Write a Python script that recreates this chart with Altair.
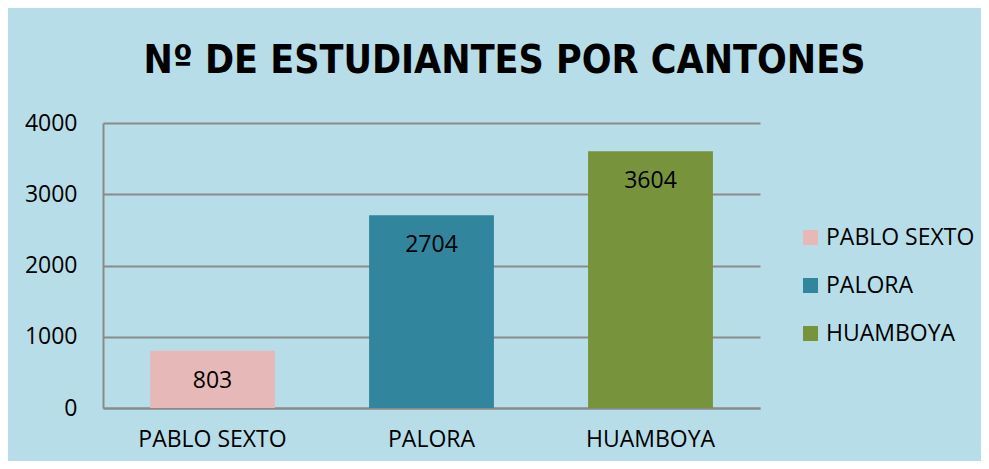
import altair as alt
import pandas as pd

categories = ["PABLO SEXTO", "PALORA", "HUAMBOYA"]
values = [803, 2704, 3604]
colors = ["#E6B9B8", "#31859C", "#77933C"]
y_ticks = [0, 1000, 2000, 3000, 4000]

df = pd.DataFrame({"canton": categories, "n": values})

FONT = "Open Sans"
FS = 23
BG = "#B7DEE8"
GRID = "#8A8A8A"

x_enc = alt.X("canton:N", sort=categories, title=None,
              scale=alt.Scale(paddingInner=0.43, paddingOuter=0.215),
              axis=alt.Axis(labelAngle=0, labelFont=FONT, labelFontSize=FS,
                            labelColor="#000000", labelPadding=20, ticks=False,
                            domainColor=GRID, domainWidth=2))
y_enc = alt.Y("n:Q", title=None,
              scale=alt.Scale(domain=[0, 4000], nice=False),
              axis=alt.Axis(values=y_ticks, format="d", labelFont=FONT,
                            labelFontSize=FS, labelColor="#000000",
                            labelPadding=26, ticks=False,
                            gridColor=GRID, gridWidth=2, domainColor=GRID,
                            domainWidth=2))

bars = alt.Chart(df).mark_bar().encode(
    x=x_enc,
    y=y_enc,
    color=alt.Color("canton:N", sort=categories,
                    scale=alt.Scale(domain=categories, range=colors),
                    legend=alt.Legend(title=None, orient="none", legendX=696,
                                      legendY=103, padding=0, symbolType="square",
                                      symbolSize=225, symbolStrokeWidth=0,
                                      labelFont=FONT, labelFontSize=FS,
                                      labelColor="#000000", rowPadding=24,
                                      labelOffset=4)),
)

labels = alt.Chart(df).mark_text(dy=30, baseline="middle", font=FONT,
                                 fontSize=FS, color="#000000").encode(
    x=alt.X("canton:N", sort=categories),
    y="n:Q",
    text="n:Q",
)

chart = (bars + labels).properties(
    width=657,
    height=285,
    autosize=alt.AutoSizeParams(type="none"),
    padding={"left": 95, "top": 115, "right": 221, "bottom": 53},
    background=BG,
    title=alt.TitleParams("Nº DE ESTUDIANTES POR CANTONES", font="DejaVu Sans Condensed",
                          fontSize=39, fontWeight="bold", color="#000000",
                          anchor="middle", dx=73, offset=31),
).configure_view(stroke=None)

chart.save("out.html", embed_options={"renderer": "svg", "actions": False})
